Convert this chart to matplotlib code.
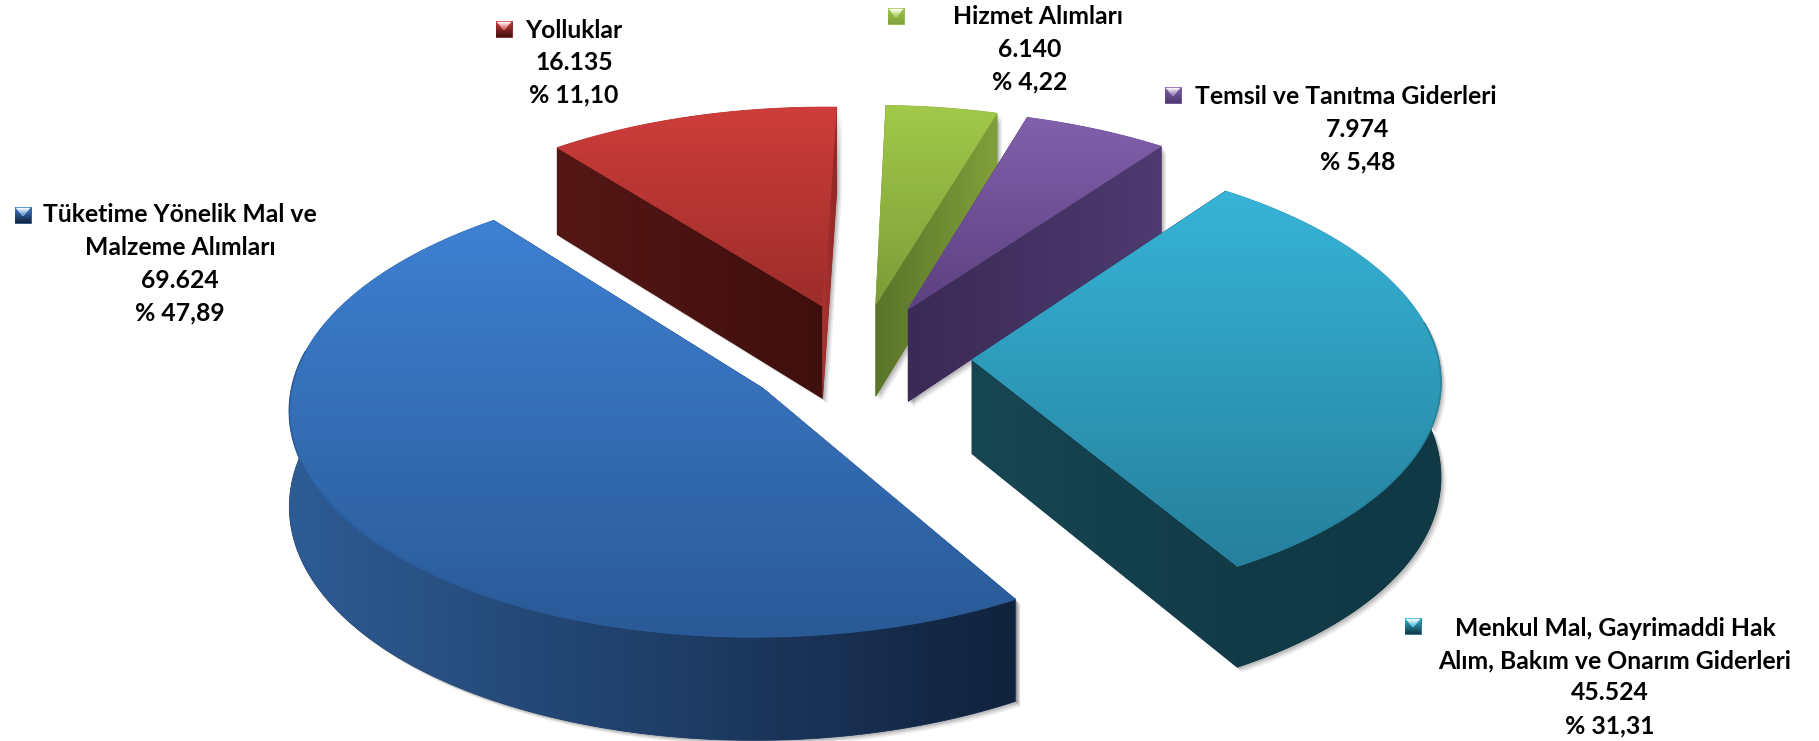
import numpy as np
from matplotlib import pyplot as plt
from matplotlib.colors import LinearSegmentedColormap, to_rgb
from matplotlib.patches import Polygon

plt.rcParams['font.family'] = ['Lato', 'DejaVu Sans']

# pie goes clockwise from the top of the ellipse
names = ["Menkul Mal, Gayrimaddi Hak\nAlım, Bakım ve Onarım Giderleri",
         "Tüketime Yönelik Mal ve\nMalzeme Alımları",
         "Yolluklar", "Hizmet Alımları", "Temsil ve Tanıtma Giderleri"]
values = [45524, 69624, 16135, 6140, 7974]
value_labels = ["45.524", "69.624", "16.135", "6.140", "7.974"]
percent_labels = ["% 31,31", "% 47,89", "% 11,10", "% 4,22", "% 5,48"]

# camera
START = 36.5
CX, CY = 858, 357
RX, RY = 466, 223
PERSP = 0.081
THICK = 94
EXPLODE = 0.245

# top face (start, end), side face (start, end)
top_colors = [("#37B4D8", "#26809B"), ("#3E80D2", "#2A5A96"), ("#CE3D3A", "#9C2D2B"),
              ("#A2C94A", "#7C9C38"), ("#8260AC", "#5C4080")]
side_colors = [("#123B48", "#103845"), ("#2E5C95", "#11223C"), ("#551715", "#3F0F0E"),
               ("#5A742A", "#80A03A"), ("#3A2A55", "#4E3A70")]
cut_colors = [("#174653", "#123B48"), ("#2E5C95", "#11223C"), ("#A83230", "#8E2826"),
              ("#5A742A", "#80A03A"), ("#3A2A55", "#4E3A70")]
key_boxes = [(1405, 618, 16), (15, 207, 16), (496, 21, 16), (888, 8, 16), (1165, 87, 16)]
label_x = [(1615, 1610), (180, 180), (574, 574), (1038, 1030), (1346, 1358)]
label_y = [628, 215, 30, 17, 97]
LINE_H = 32.5
FONT_SIZE = 17.8

fig = plt.figure(figsize=(18.19, 7.41), dpi=100)
ax = fig.add_axes([0, 0, 1, 1])
z_now = 1


def project(px, py, drop=0.0):
    w = 1 + PERSP * py
    return CX + RX * px / w, CY - RY * py / w + drop / w


def fill_grad(points, colors, vertical=True):
    global z_now
    points = np.array(points)
    mid = tuple((np.array(to_rgb(colors[0])) + np.array(to_rgb(colors[1]))) / 2)
    ax.add_patch(Polygon(points, closed=True, fc=mid, ec=mid, lw=0.6, zorder=z_now))
    z_now += 1
    cmap = LinearSegmentedColormap.from_list("g", colors)
    grad = np.linspace(0, 1, 256)
    grad = grad[:, None] if vertical else grad[None, :]
    ext = (points[:, 0].min(), points[:, 0].max(), points[:, 1].max(), points[:, 1].min())
    im = ax.imshow(grad, cmap=cmap, extent=ext, aspect='auto', origin='upper', zorder=z_now)
    clip = Polygon(points, closed=True, transform=ax.transData)
    im.set_clip_path(clip)
    z_now += 1


def shadow(points):
    global z_now
    points = np.array(points)
    for off, alpha in [(5, 0.10), (3.5, 0.14), (2, 0.2)]:
        ax.add_patch(Polygon(points + [off, off], closed=True, fc="#555555", ec="none",
                             alpha=alpha, zorder=z_now))
    z_now += 1


def draw_slice(i, a1, a2):
    global z_now
    mid = np.radians((a1 + a2) / 2)
    ox, oy = EXPLODE * np.sin(mid), EXPLODE * np.cos(mid)
    th = np.radians(np.linspace(a1, a2, 160))
    rim_x, rim_y = ox + np.sin(th), oy + np.cos(th)
    apex = project(ox, oy)
    apex_low = project(ox, oy, THICK)
    rim_top = [project(x, y) for x, y in zip(rim_x, rim_y)]
    rim_low = [project(x, y, THICK) for x, y in zip(rim_x, rim_y)]

    first = [apex, rim_top[0], rim_low[0], apex_low]
    last = [apex, rim_top[-1], rim_low[-1], apex_low]
    shadow(first)
    shadow(last)

    # rim only from the near half of the ellipse
    near = [k for k in range(len(th)) if 80 <= np.degrees(th[k]) % 360 <= 280]
    if near:
        rim_face = [rim_top[k] for k in near] + [rim_low[k] for k in near[::-1]]
        shadow(rim_face)

    # yolluklar has a dark left face and a thin light one on the right
    fill_grad(first, side_colors[i] if i == 2 else cut_colors[i], vertical=False)
    fill_grad(last, cut_colors[i], vertical=False)
    if near:
        fill_grad(rim_face, side_colors[i], vertical=False)

    fill_grad([apex] + rim_top, top_colors[i], vertical=True)
    if near:
        xs = [rim_top[k][0] for k in near]
        ys = [rim_top[k][1] for k in near]
        ax.plot(xs, ys, color=top_colors[i][1], lw=1.2, alpha=0.8, zorder=z_now)
        z_now += 1


# angles from the values
total = sum(values)
spans = [v / total * 360 for v in values]
edges = [START]
for s in spans:
    edges.append(edges[-1] + s)

for i in [2, 3, 4, 0, 1]:
    draw_slice(i, edges[i], edges[i + 1])

# legend keys + labels
for i, name in enumerate(names):
    kx, ky, ks = key_boxes[i]
    box = [(kx, ky), (kx + ks, ky), (kx + ks, ky + ks), (kx, ky + ks)]
    fill_grad(box, (top_colors[i][0], side_colors[i][1]), vertical=True)
    tri = [(kx + 1, ky + 1), (kx + ks - 1, ky + 1), (kx + ks / 2, ky + ks * 0.55)]
    fill_grad(tri, ("#FFFFFF", top_colors[i][0]), vertical=True)

    y = label_y[i]
    for line in name.split("\n"):
        ax.text(label_x[i][0], y, line, ha='center', va='center', fontsize=FONT_SIZE,
                fontweight='bold', color='black', zorder=500)
        y += LINE_H
    ax.text(label_x[i][1], y, value_labels[i], ha='center', va='center', fontsize=FONT_SIZE,
            fontweight='bold', color='black', zorder=500)
    y += LINE_H
    ax.text(label_x[i][1], y, percent_labels[i], ha='center', va='center', fontsize=FONT_SIZE,
            fontweight='bold', color='black', zorder=500)

ax.set_xlim(0, 1819)
ax.set_ylim(741, 0)
ax.axis('off')
fig.savefig("out.png", dpi=100, facecolor='white')
